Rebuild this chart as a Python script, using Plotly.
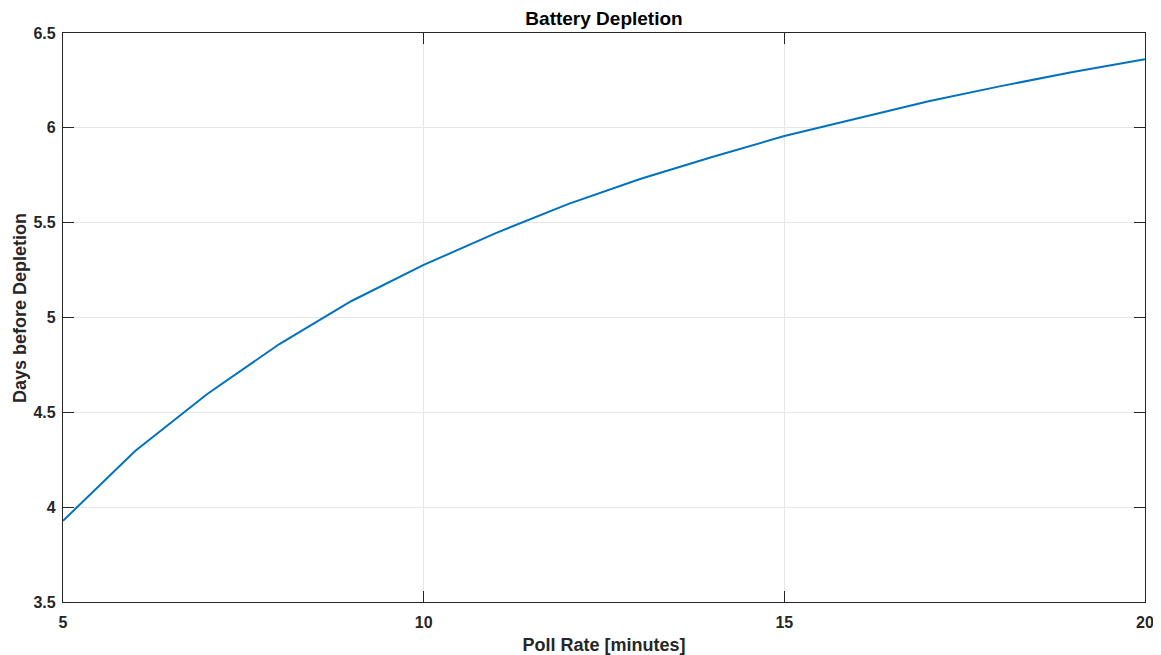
import plotly.graph_objects as go

poll_rate = [5, 6, 7, 8, 9, 10, 11, 12, 13, 14, 15, 16, 17, 18, 19, 20]
days = [3.928, 4.296, 4.597, 4.860, 5.087, 5.277, 5.445, 5.598, 5.730,
        5.846, 5.957, 6.050, 6.140, 6.220, 6.294, 6.362]

x_ticks = [5, 10, 15, 20]
y_ticks = [3.5, 4, 4.5, 5, 5.5, 6, 6.5]

fig = go.Figure()
fig.add_trace(go.Scatter(x=poll_rate, y=days, mode="lines",
                         line=dict(color="#0072BD", width=2), showlegend=False))

axis_common = dict(showline=True, linecolor="#262626", linewidth=1.3, mirror="ticks",
                   ticks="inside", ticklen=11, tickcolor="#262626", tickwidth=1,
                   showgrid=True, gridcolor="#E6E6E6", gridwidth=1, zeroline=False,
                   automargin=False, ticklabeloverflow="allow",
                   tickfont=dict(family="Liberation Sans", size=16, color="#262626"))

fig.update_layout(
    width=1153, height=647,
    margin=dict(l=55, r=16, t=25, b=53),
    paper_bgcolor="white", plot_bgcolor="white",
    title=dict(text="<b>Battery Depletion</b>", xref="paper", x=0.5, xanchor="center",
               y=0.984, yanchor="middle",
               font=dict(family="Liberation Sans", size=19, color="black")),
    xaxis=dict(range=[5, 20], tickvals=x_ticks, ticktext=[f"<b>{v}</b>" for v in x_ticks],
               ticklabelstandoff=6,
               title=dict(text="<b>Poll Rate [minutes]</b>", standoff=8,
                          font=dict(family="Liberation Sans", size=18, color="#262626")),
               **axis_common),
    yaxis=dict(range=[3.5, 6.5], tickvals=y_ticks, ticktext=[f"<b>{v:g}</b>" for v in y_ticks],
               ticklabelstandoff=3, **axis_common),
    annotations=[dict(text="<b>Days before Depletion</b>", textangle=-90,
                      xref="paper", yref="paper", x=0, y=0.5167, xanchor="center",
                      yanchor="middle", xshift=-43, showarrow=False,
                      font=dict(family="Liberation Sans", size=18, color="#262626"))],
)

fig.write_html("out.html")
